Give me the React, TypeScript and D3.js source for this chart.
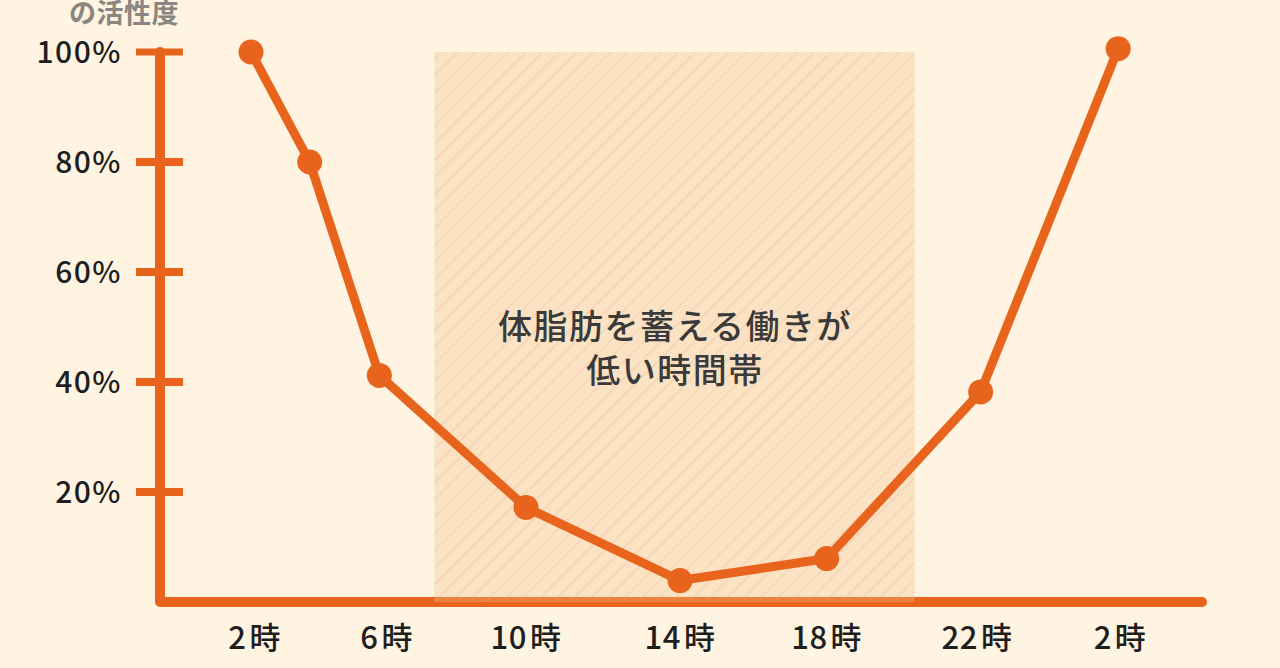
import React from "react";
import * as d3 from "d3";

const hours = [2.3, 3.9, 5.8, 9.8, 14, 18, 22.2, 25.95];
const activity = [100, 80, 41.2, 17.2, 3.9, 7.9, 38.2, 100.6];
const yTicks = [20, 40, 60, 80, 100];
const xTickHours = [2.4, 6, 9.8, 14, 18, 22.1, 26];
const xTickLabels = ["2", "6", "10", "14", "18", "22", "2"];
const shadeHours = [7.3, 20.4];
const shadeText = ["体脂肪を蓄える働きが", "低い時間帯"];
const yTitle = "の活性度";

const W = 1280;
const H = 668;
const ORANGE = "#E8641C";
const BG = "#FEF4E1";
const FONT = "'Noto Sans CJK JP', 'Noto Sans', sans-serif";

export default function App() {
  const x = d3.scaleLinear().domain([2, 26]).range([240, 1120]);
  const y = d3.scaleLinear().domain([0, 100]).range([602, 52]);
  const axisX = 160;
  const axisEnd = 1202;

  const line = d3
    .line<number>()
    .x((_, i) => x(hours[i]))
    .y((d) => y(d));

  const axisPath = d3.path();
  axisPath.moveTo(axisX, y(100));
  axisPath.lineTo(axisX, y(0));
  axisPath.lineTo(axisEnd, y(0));

  return (
    <div style={{ position: "fixed", left: 0, top: 0, width: W, height: H, background: BG }}>
      <svg width={W} height={H} style={{ display: "block" }}>
        <defs>
          <pattern id="stripes" width="12" height="12" patternUnits="userSpaceOnUse" patternTransform="rotate(45)">
            <rect width="12" height="12" fill="rgba(245,188,132,0.32)" />
            <line x1="0" y1="0" x2="0" y2="12" stroke="rgba(215,170,150,0.28)" strokeWidth="2.5" />
          </pattern>
        </defs>
        <rect width={W} height={H} fill={BG} />

        <text x={69} y={23} fontFamily={FONT} fontSize={27} fontWeight={700} letterSpacing={0.5} fill="#8a8580">
          {yTitle}
        </text>

        {/* axis */}
        <path d={axisPath.toString()} fill="none" stroke={ORANGE} strokeWidth={10} strokeLinejoin="round" strokeLinecap="round" />
        {yTicks.map((t) => (
          <g key={t}>
            <line x1={axisX - 24} x2={axisX + 23} y1={y(t)} y2={y(t)} stroke={ORANGE} strokeWidth={t === 100 ? 7 : 8} />
            <text
              x={122}
              y={y(t)}
              dy="0.36em"
              textAnchor="end"
              fontFamily={FONT}
              fontSize={30}
              fontWeight={500}
              letterSpacing={1.5}
              fill="#1e1e1e"
            >
              {t}%
            </text>
          </g>
        ))}

        {/* shaded time band */}
        <rect
          x={x(shadeHours[0])}
          y={y(100)}
          width={x(shadeHours[1]) - x(shadeHours[0])}
          height={y(0) - y(100)}
          fill="url(#stripes)"
        />
        <text
          textAnchor="middle"
          fontFamily={FONT}
          fontSize={34}
          fontWeight={500}
          letterSpacing={1.5}
          fill="#3a3a3a"
        >
          {shadeText.map((s, i) => (
            <tspan key={i} x={675} y={327 + i * 44} dy="0.36em">
              {s}
            </tspan>
          ))}
        </text>

        {/* x labels */}
        {xTickHours.map((h, i) => (
          <text
            key={i}
            x={x(h)}
            y={638}
            dy="0.36em"
            textAnchor="middle"
            fontFamily={FONT}
            fontSize={31}
            fontWeight={500}
            letterSpacing={0.5}
            fill="#1e1e1e"
          >
            {xTickLabels[i]}
            <tspan dx={3}>時</tspan>
          </text>
        ))}

        {/* data line */}
        <path d={line(activity) || ""} fill="none" stroke={ORANGE} strokeWidth={9} strokeLinejoin="round" />
        {activity.map((v, i) => (
          <circle key={i} cx={x(hours[i])} cy={y(v)} r={12.5} fill={ORANGE} />
        ))}
      </svg>
    </div>
  );
}
